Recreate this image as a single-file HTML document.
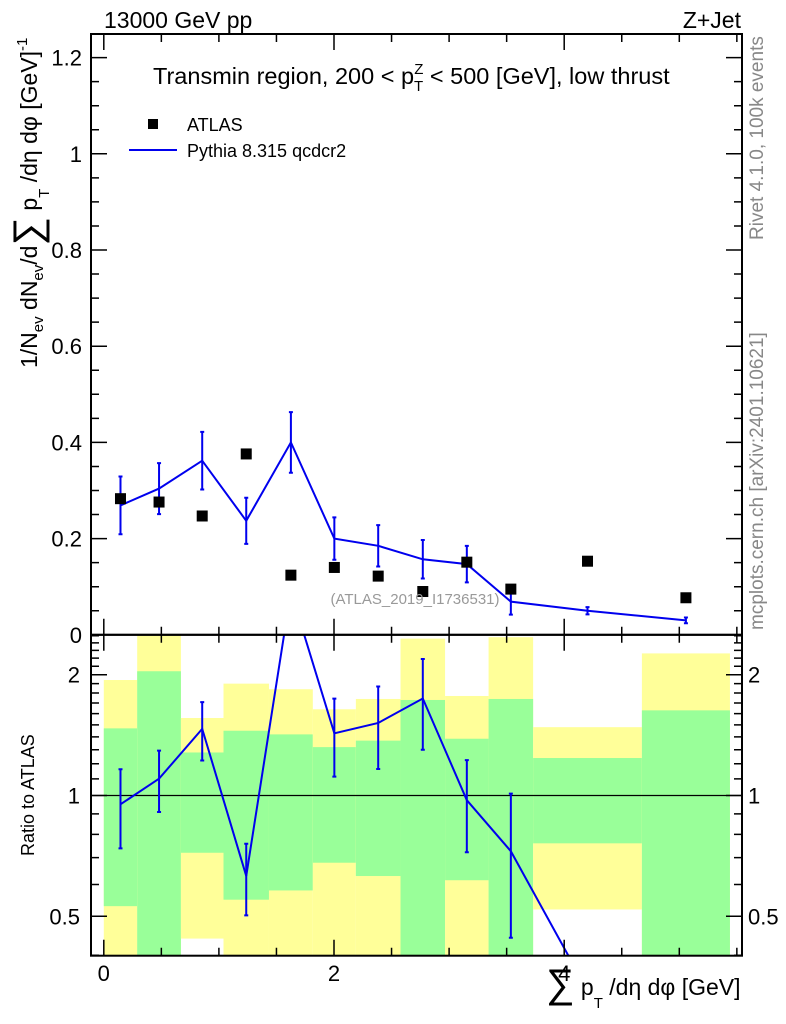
<!DOCTYPE html>
<html><head><meta charset="utf-8"><style>
html,body{margin:0;padding:0;background:#fff;overflow:hidden;width:786px;height:1024px;}
svg{display:block;font-family:"Liberation Sans",sans-serif;}
</style></head><body>
<svg id="chart" width="786" height="1024" viewBox="0 0 786 1024" xmlns="http://www.w3.org/2000/svg">
<defs>
<clipPath id="ratioClip"><rect x="91" y="635" width="651" height="321"/></clipPath>
<clipPath id="mainClip"><rect x="91" y="34" width="651" height="601"/></clipPath>
</defs>
<g id="ratio-bands" clip-path="url(#ratioClip)"></g>
<g id="main-layer" clip-path="url(#mainClip)"></g>
<g id="ratio-layer" clip-path="url(#ratioClip)"></g>
<g id="axes"></g>

<text x="104" y="28" font-size="23">13000 GeV pp</text>
<text x="741" y="28" font-size="23" text-anchor="end">Z+Jet</text>
<text x="153" y="84" font-size="23.5">Transmin region, 200 &lt; p<tspan font-size="15" dy="7">T</tspan><tspan font-size="15" dx="-9" dy="-17">Z</tspan><tspan dy="10"> &lt; 500 [GeV], low thrust</tspan></text>

<g>
<rect x="148" y="119" width="10" height="10" fill="#000"/>
<text x="187" y="131" font-size="18">ATLAS</text>
<line x1="129" y1="150" x2="177" y2="150" stroke="#0000ee" stroke-width="2"/>
<text x="187" y="157" font-size="18">Pythia 8.315 qcdcr2</text>
</g>

<text transform="translate(37,368) rotate(-90)" font-size="23">1/N<tspan font-size="15" dy="6">ev</tspan><tspan dy="-6"> dN</tspan><tspan font-size="15" dy="6">ev</tspan><tspan dy="-6">/d</tspan><tspan font-size="40" dy="4">∑</tspan><tspan dy="-4"> p</tspan><tspan font-size="15" dy="12">T</tspan><tspan dy="-12"> /dη dφ  [GeV]</tspan><tspan font-size="15" dy="-10">-1</tspan></text>

<text transform="translate(34,856) rotate(-90)" font-size="18">Ratio to ATLAS</text>

<text x="546" y="995" font-size="23"><tspan font-size="40" dy="2">∑</tspan><tspan dy="-2"> p</tspan><tspan font-size="15" dy="13">T</tspan><tspan dy="-13"> /dη dφ [GeV]</tspan></text>

<text transform="translate(763,240) rotate(-90)" font-size="19" fill="#888">Rivet 4.1.0,  100k events</text>
<text transform="translate(763,630) rotate(-90)" font-size="19" fill="#888">mcplots.cern.ch [arXiv:2401.10621]</text>
<text x="415" y="604" font-size="15" fill="#999" text-anchor="middle">(ATLAS_2019_I1736531)</text>

<script>
// ---- data ----
var binEdges = [0, 0.29, 0.67, 1.04, 1.435, 1.816, 2.19, 2.578, 2.965, 3.343, 3.73, 4.675, 5.44];
var atlasValues = [0.283, 0.276, 0.247, 0.376, 0.124, 0.140, 0.122, 0.090, 0.151, 0.095, 0.153, 0.077];
var atlasRelErr = [0.47, 1.04, 0.28, 0.45, 0.42, 0.32, 0.37, 0.73, 0.385, 0.74, 0.24, 0.63];
var mcValues = [0.269, 0.304, 0.362, 0.237, 0.400, 0.200, 0.185, 0.157, 0.147, 0.069, 0.050, 0.030];
var mcErrors = [0.060, 0.053, 0.060, 0.048, 0.063, 0.044, 0.043, 0.040, 0.038, 0.027, 0.0075, 0.006];
var mainYTicks = [0, 0.2, 0.4, 0.6, 0.8, 1, 1.2];
var mainYTickLabels = ["0", "0.2", "0.4", "0.6", "0.8", "1", "1.2"];
var ratioYTicks = [0.5, 1, 2];
var ratioYTickLabels = ["0.5", "1", "2"];
var xTicks = [0, 2, 4];
var xTickLabels = ["0", "2", "4"];

// ---- axis functions ----
var X0 = 91, X1 = 742, MT = 34, MB = 634.8, RB = 955.7;
var RMIN = 0.398, RMAX = 2.52;
function xs(v){ return 103.8 + 115.1 * v; }
function ys(v){ return 634.8 - 481 * v; }
function yr(r){ return 795.5 - 120.8 * Math.log2(r); }
var NS = "http://www.w3.org/2000/svg";
function mk(tag, attrs, parent){
  var e = document.createElementNS(NS, tag);
  for (var k in attrs) e.setAttribute(k, attrs[k]);
  parent.appendChild(e);
  return e;
}
var bands = document.getElementById('ratio-bands');
var mainL = document.getElementById('main-layer');
var ratioL = document.getElementById('ratio-layer');
var axes = document.getElementById('axes');

for (var i = 0; i < binEdges.length - 1; i++) {
  var e = atlasRelErr[i];
  var xa = xs(binEdges[i]), xb = xs(binEdges[i+1]);
  var yTop = yr(1 + 2*e), yBot = (1 - 2*e) > 0.01 ? yr(1 - 2*e) : 2000;
  var y2 = mk('rect', {x: xa, y: yTop, width: xb - xa, height: yBot - yTop, fill: '#ffff99'}, bands);
  
  
  var gTop = yr(1 + e), gBot = (1 - e) > 0.01 ? yr(1 - e) : 2000;
  var g1 = mk('rect', {x: xa, y: gTop, width: xb - xa, height: gBot - gTop, fill: '#99ff99'}, bands);
  
  
}

var centers = [];
for (var i = 0; i < mcValues.length; i++) centers.push((binEdges[i] + binEdges[i+1]) / 2);
var pts = centers.map(function(c, i){ return xs(c) + ',' + ys(mcValues[i]); }).join(' ');
var ml = mk('polyline', {points: pts, fill: 'none', stroke: '#0000ee', 'stroke-width': 2}, mainL);


for (var i = 0; i < mcValues.length; i++) {
  var cx = xs(centers[i]), t = ys(mcValues[i] + mcErrors[i]), b = ys(mcValues[i] - mcErrors[i]);
  var eb = mk('path', {d: 'M' + cx + ',' + t + 'V' + b + 'M' + (cx-2) + ',' + t + 'H' + (cx+2) + 'M' + (cx-2) + ',' + b + 'H' + (cx+2), stroke: '#0000ee', 'stroke-width': 2, fill: 'none'}, mainL);
  
  
}
for (var i = 0; i < atlasValues.length; i++) {
  var sq = mk('rect', {x: xs(centers[i]) - 5.5, y: ys(atlasValues[i]) - 5.5, width: 11, height: 11, fill: '#000'}, mainL);
  
  
}

var one = mk('line', {x1: X0, x2: X1, y1: yr(1), y2: yr(1), stroke: '#000', 'stroke-width': 1.2}, ratioL);


var rpts = centers.map(function(c, i){ return xs(c) + ',' + yr(mcValues[i] / atlasValues[i]); }).join(' ');
var rl = mk('polyline', {points: rpts, fill: 'none', stroke: '#0000ee', 'stroke-width': 2}, ratioL);


for (var i = 0; i < mcValues.length; i++) {
  var r = mcValues[i] / atlasValues[i], re = mcErrors[i] / atlasValues[i];
  if (r < RMIN || r > RMAX) continue;
  var cx = xs(centers[i]), t = yr(r + re), b = (r - re) > 0.01 ? yr(r - re) : 2000;
  var rb = mk('path', {d: 'M' + cx + ',' + t + 'V' + b + 'M' + (cx-2) + ',' + t + 'H' + (cx+2) + 'M' + (cx-2) + ',' + b + 'H' + (cx+2), stroke: '#0000ee', 'stroke-width': 2, fill: 'none'}, ratioL);
  
  
}

var f1 = mk('rect', {x: X0, y: MT, width: X1 - X0, height: MB - MT, fill: 'none', stroke: '#000', 'stroke-width': 2}, axes);


var f2 = mk('rect', {x: X0, y: MB, width: X1 - X0, height: RB - MB, fill: 'none', stroke: '#000', 'stroke-width': 2}, axes);



var d = '';
for (var v = 0; v <= 5.5; v += 0.5) {
  var px = xs(v), major = (Math.abs(v % 2) < 1e-6), L = major ? 16 : 8;
  d += 'M' + px + ',' + MT + 'v' + L + 'M' + px + ',' + MB + 'v-' + L + 'M' + px + ',' + MB + 'v' + L + 'M' + px + ',' + RB + 'v-' + L;
}
for (var v = 0; v <= 1.25; v += 0.05) {
  var py = ys(v), major = Math.abs((v * 5) - Math.round(v * 5)) < 1e-6, L = major ? 16 : 8;
  d += 'M' + X0 + ',' + py + 'h' + L + 'M' + X1 + ',' + py + 'h-' + L;
}
for (var k = 4; k <= 25; k++) {
  var r = k / 10, py = yr(r);
  if (py < MB || py > RB) continue;
  var major = (k === 5 || k === 10 || k === 20), L = major ? 16 : 8;
  d += 'M' + X0 + ',' + py + 'h' + L + 'M' + X1 + ',' + py + 'h-' + L;
}
var tk = mk('path', {d: d, stroke: '#000', 'stroke-width': 1.5, fill: 'none'}, axes);



for (var i = 0; i < mainYTicks.length; i++) {
  var t = mk('text', {x: 82, y: ys(mainYTicks[i]) + 8, 'font-size': 22, 'text-anchor': 'end'}, axes);
  t.textContent = mainYTickLabels[i];
  
  
}
for (var i = 0; i < ratioYTicks.length; i++) {
  var t = mk('text', {x: 80, y: yr(ratioYTicks[i]) + 8, 'font-size': 22, 'text-anchor': 'end'}, axes);
  t.textContent = ratioYTickLabels[i];
  
  
  var t2 = mk('text', {x: 748, y: yr(ratioYTicks[i]) + 8, 'font-size': 22}, axes);
  t2.textContent = ratioYTickLabels[i];
  
  
}
for (var i = 0; i < xTicks.length; i++) {
  var t = mk('text', {x: xs(xTicks[i]), y: 981, 'font-size': 22, 'text-anchor': 'middle'}, axes);
  t.textContent = xTickLabels[i];
  
  
}
</script>
</svg>
</body></html>
